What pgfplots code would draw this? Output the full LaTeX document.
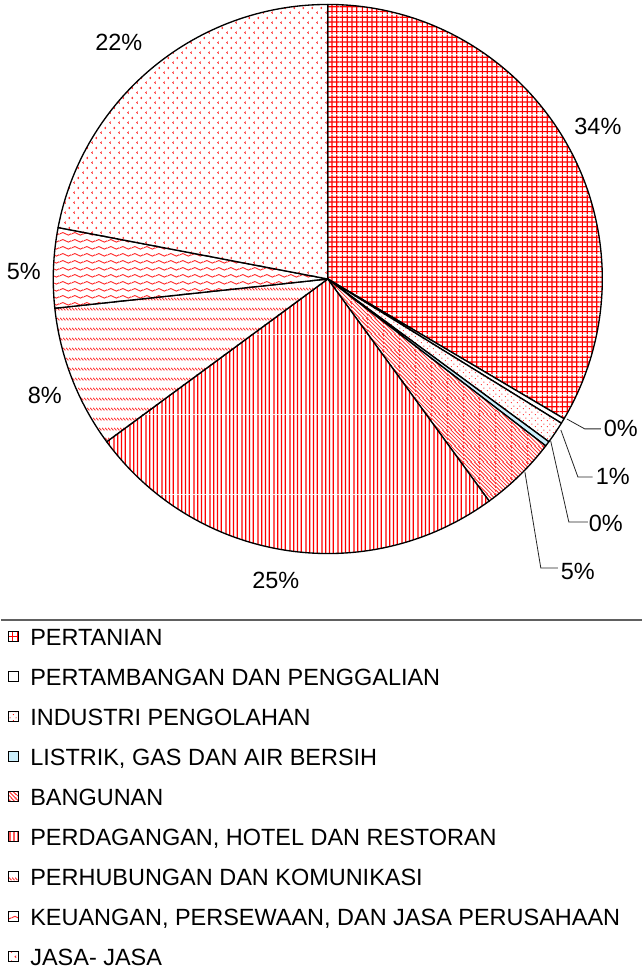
\documentclass[border=0pt]{standalone}
\usepackage{fontspec}
\setmainfont{Liberation Sans}
\usepackage{pgfplots}
\pgfplotsset{compat=1.18}
\usepackage{pgfplotstable}
\usetikzlibrary{patterns,patterns.meta}

\newcommand\pctfont{\fontsize{17.6}{21}\selectfont}

\tikzdeclarepattern{
  name=pgrid, type=colored,
  bounding box={(0pt,0pt) and (15pt,15pt)},
  tile size={(15pt,15pt)},
  code={\fill[white] (0pt,0pt) rectangle (15pt,15pt);
        \foreach \k in {0,1,2,3}{
          \fill[red] (0pt,1.4pt+3.75pt*\k) rectangle (15pt,2.35pt+3.75pt*\k);
          \fill[red] (1.4pt+3.75pt*\k,0pt) rectangle (2.35pt+3.75pt*\k,15pt);}}
}
\tikzdeclarepattern{
  name=pvert, type=colored,
  bounding box={(0pt,0pt) and (12pt,60pt)},
  tile size={(12pt,60pt)},
  code={\fill[white] (0pt,0pt) rectangle (12pt,60pt);
        \fill[red] (1pt,0pt) rectangle (2pt,60pt) (4pt,0pt) rectangle (5pt,60pt) (7pt,0pt) rectangle (8pt,60pt) (10pt,0pt) rectangle (11pt,60pt);}
}
\tikzdeclarepattern{
  name=pdiag, type=colored,
  bounding box={(0pt,0pt) and (12pt,12pt)},
  tile size={(12pt,12pt)},
  code={\fill[white] (0pt,0pt) rectangle (12pt,12pt);
        \foreach \k in {-4,-3,-2,-1,0,1,2,3,4}{
          \draw[red!85, line width=0.65pt] (3pt*\k-1pt,13pt) -- (3pt*\k+13pt,-1pt);}}
}
\tikzdeclarepattern{
  name=pdots, type=colored,
  bounding box={(0pt,0pt) and (4.5pt,4.5pt)},
  tile size={(4.5pt,4.5pt)},
  code={\fill[white] (0pt,0pt) rectangle (4.5pt,4.5pt);
        \fill[red] (1.125pt,1.125pt) circle[radius=0.45pt] (3.375pt,3.375pt) circle[radius=0.45pt];}
}
\tikzdeclarepattern{
  name=wavy, type=colored,
  bounding box={(0pt,0pt) and (9pt,5pt)},
  tile size={(9pt,5pt)},
  code={\fill[white] (0pt,0pt) rectangle (9pt,5pt);
        \draw[red!85, line width=0.7pt] (0pt,2.5pt) sin (2.25pt,3.5pt) cos (4.5pt,2.5pt) sin (6.75pt,1.5pt) cos (9pt,2.5pt);}
}
\tikzdeclarepattern{
  name=dashrows, type=colored,
  bounding box={(0pt,0pt) and (2.4pt,7.5pt)},
  tile size={(2.4pt,7.5pt)},
  code={\fill[white] (0pt,0pt) rectangle (2.4pt,7.5pt);
        \draw[red!85, line width=0.7pt] (0.2pt,5pt) -- (2.2pt,3pt);}
}
\tikzdeclarepattern{
  name=chevrons, type=colored,
  bounding box={(0pt,0pt) and (6.8pt,7.6pt)},
  tile size={(6.8pt,7.6pt)},
  code={\fill[white] (0pt,0pt) rectangle (6.8pt,7.6pt);
        \draw[red!85, line width=0.55pt] (2.3pt,2.7pt) -- (1.3pt,1.9pt) -- (2.3pt,1.1pt) (5.7pt,6.5pt) -- (4.7pt,5.7pt) -- (5.7pt,4.9pt);}
}

\tikzset{
  slice0/.style={pattern=pgrid},
  slice1/.style={fill=white},
  slice2/.style={pattern=pdots},
  slice3/.style={fill=cyan!20},
  slice4/.style={pattern=pdiag},
  slice5/.style={pattern=pvert},
  slice6/.style={pattern=dashrows},
  slice7/.style={pattern=wavy},
  slice8/.style={pattern=chevrons},
}

\pgfplotstableread[col sep=semicolon]{
sector;value;pct;lx;ly
PERTANIAN;33.5;34;0.984;0.554
PERTAMBANGAN DAN PENGGALIAN;0.3;0;1.067;-0.543
INDUSTRI PENGOLAHAN;1.3;1;1.038;-0.718
LISTRIK, GAS DAN AIR BERSIH;0.3;0;1.013;-0.889
BANGUNAN;4.6;5;0.911;-1.064
PERDAGANGAN, HOTEL DAN RESTORAN;24.9;25;-0.189;-1.097
PERHUBUNGAN DAN KOMUNIKASI;8.4;8;-1.031;-0.423
KEUANGAN, PERSEWAAN, DAN JASA PERUSAHAAN;4.7;5;-1.107;0.026
JASA- JASA;22.0;22;-0.761;0.863
}\piedata

\begin{document}
\begin{tikzpicture}
\path (0,0) rectangle (480.75pt,730.5pt);
\begin{axis}[
  x=205.9pt, y=205.9pt,
  xmin=-1, xmax=1, ymin=-1, ymax=1,
  hide axis, clip=false,
  anchor=origin, at={(245.25pt,521.25pt)},
  legend cell align=left,
  legend image code/.code={\draw[#1,draw=black,line width=0.7pt] (0pt,-1.6pt) rectangle (7.2pt,6.2pt);},
  legend style={
    at={(-0.0828,-0.1356)}, anchor=north west,
    draw=none, fill=none,
    font=\pctfont,
    inner xsep=0pt, inner ysep=0pt,
    row sep=13pt, column sep=8.8pt,
    nodes={inner sep=0pt, text height=13pt, text depth=4pt},
  },
]
\pgfplotstablegetrowsof{\piedata}
\pgfmathtruncatemacro\nrows{\pgfplotsretval-1}
\gdef\cumangle{90}
\pgfplotsforeachungrouped \i in {0,...,\nrows}{%
  \pgfplotstablegetelem{\i}{value}\of\piedata \let\val\pgfplotsretval
  \pgfplotstablegetelem{\i}{pct}\of\piedata \let\pct\pgfplotsretval
  \pgfplotstablegetelem{\i}{lx}\of\piedata \let\lx\pgfplotsretval
  \pgfplotstablegetelem{\i}{ly}\of\piedata \let\ly\pgfplotsretval
  \pgfplotstablegetelem{\i}{sector}\of\piedata \let\nm\pgfplotsretval
  \pgfmathsetmacro\angA{\cumangle}%
  \pgfmathsetmacro\angB{\cumangle-3.6*\val}%
  \pgfmathsetmacro\cA{cos(\angA)}%
  \pgfmathsetmacro\sA{sin(\angA)}%
  \edef\temp{\noexpand\filldraw[slice\i, draw=black, line width=1pt, line join=round] (axis cs:0,0) -- (axis cs:\cA,\sA) arc[start angle=\angA, end angle=\angB, radius=205.9pt] -- cycle;
    \noexpand\node[font=\noexpand\pctfont, inner sep=0pt] at (axis cs:\lx,\ly) {\pct\noexpand\%};
    \noexpand\addlegendimage{slice\i}
    \noexpand\addlegendentry{\nm}}%
  \temp
  \xdef\cumangle{\angB}%
}
\draw[line width=0.6pt, black!85] (axis cs:0.871,-0.510) -- (axis cs:0.936,-0.546) -- (axis cs:0.995,-0.546);
\draw[line width=0.6pt, black!85] (axis cs:0.849,-0.550) -- (axis cs:0.911,-0.721) -- (axis cs:0.965,-0.721);
\draw[line width=0.6pt, black!85] (axis cs:0.812,-0.590) -- (axis cs:0.878,-0.885) -- (axis cs:0.947,-0.885);
\draw[line width=0.6pt, black!85] (axis cs:0.718,-0.703) -- (axis cs:0.776,-1.053) -- (axis cs:0.838,-1.053);
\draw[line width=1.2pt, gray!75!black] (axis description cs:-0.0955,-0.1211) -- (axis description cs:1.0718,-0.1211);
\end{axis}
\end{tikzpicture}
\end{document}
